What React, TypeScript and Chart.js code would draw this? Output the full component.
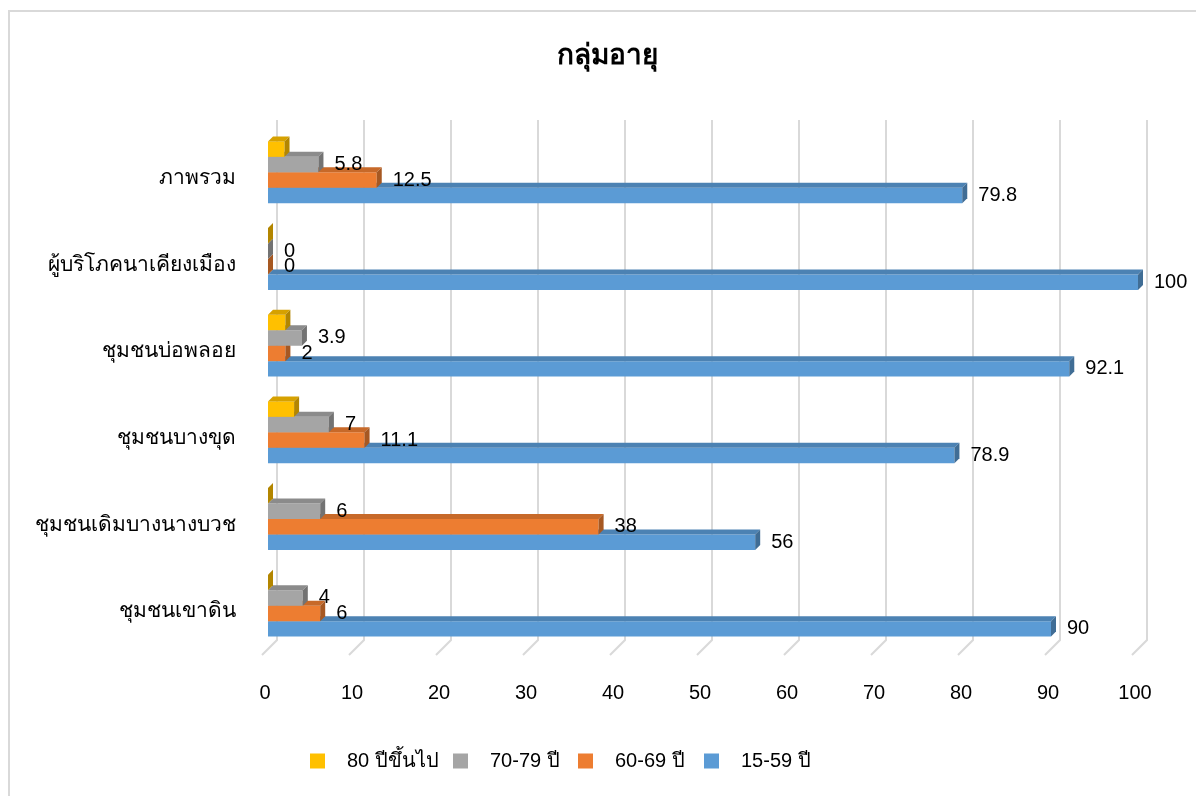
import React, { useEffect, useRef } from "react";
import { Chart, registerables } from "chart.js";

Chart.register(...registerables);

// ---- data ----
const categories = [
  "ภาพรวม",
  "ผู้บริโภคนาเคียงเมือง",
  "ชุมชนบ่อพลอย",
  "ชุมชนบางขุด",
  "ชุมชนเดิมบางนางบวช",
  "ชุมชนเขาดิน",
];
const seriesNames = ["80 ปีขึ้นไป", "70-79 ปี", "60-69 ปี", "15-59 ปี"];
const age80plus = [1.9, 0, 2, 3, 0, 0];
const age70to79 = [5.8, 0, 3.9, 7, 6, 4];
const age60to69 = [12.5, 0, 2, 11.1, 38, 6];
const age15to59 = [79.8, 100, 92.1, 78.9, 56, 90];
const xTickMin = 0;
const xTickMax = 100;
const xTickStep = 10;
const chartTitle = "กลุ่มอายุ";

// ---- styles ----
const COLORS = ["#ffc000", "#a5a5a5", "#ed7d31", "#5b9bd5"];
const FONT = "'Liberation Sans', Arial, 'Noto Sans', sans-serif";
const DEPTH = 5;
const LEGEND_X = [310, 453, 578, 704];

const shade = (hex: string, f: number) => {
  const n = parseInt(hex.slice(1), 16);
  const r = Math.round(((n >> 16) & 255) * f);
  const g = Math.round(((n >> 8) & 255) * f);
  const b = Math.round((n & 255) * f);
  return `rgb(${r},${g},${b})`;
};

// white page with the light frame on the top and left edges, plus the title
const framePlugin = {
  id: "frame",
  beforeDraw(chart: any) {
    const { ctx, width, height } = chart;
    ctx.save();
    ctx.fillStyle = "#ffffff";
    ctx.fillRect(0, 0, width, height);
    ctx.strokeStyle = "#d9d9d9";
    ctx.lineWidth = 2;
    ctx.beginPath();
    ctx.moveTo(9, height);
    ctx.lineTo(9, 11);
    ctx.lineTo(width, 11);
    ctx.stroke();
    ctx.fillStyle = "#000000";
    ctx.font = `bold 28px ${FONT}`;
    ctx.textAlign = "center";
    ctx.textBaseline = "middle";
    ctx.fillText(chartTitle, 607, 56);
    ctx.restore();
  },
};

// back-wall gridlines plus the slanted floor edges of the 3D plot
const grid3dPlugin = {
  id: "grid3d",
  beforeDatasetsDraw(chart: any) {
    const { ctx, chartArea, scales } = chart;
    const xs = scales.x;
    ctx.save();
    ctx.strokeStyle = "#d9d9d9";
    ctx.lineWidth = 2;
    for (let v = xTickMin; v <= xTickMax; v += xTickStep) {
      const xf = xs.getPixelForValue(v);
      const bx = xf + 9;
      ctx.beginPath();
      ctx.moveTo(bx, chartArea.top - 9);
      ctx.lineTo(bx, chartArea.bottom - 9);
      ctx.lineTo(xf - 6, chartArea.bottom + 6);
      ctx.stroke();
    }
    ctx.restore();
  },
};

// top and end faces that give each bar its depth
const bar3dPlugin = {
  id: "bar3d",
  afterDatasetDraw(chart: any, args: any) {
    const ds = chart.data.datasets[args.index];
    const color = ds.backgroundColor as string;
    const ctx = chart.ctx;
    ctx.save();
    args.meta.data.forEach((el: any) => {
      const { x, y, base, height } = el.getProps(["x", "y", "base", "height"], true);
      const top = y - height / 2;
      const bottom = y + height / 2;
      const x0 = Math.min(x, base);
      const x1 = Math.max(x, base);
      ctx.fillStyle = shade(color, 0.84);
      ctx.beginPath();
      ctx.moveTo(x0, top);
      ctx.lineTo(x1, top);
      ctx.lineTo(x1 + DEPTH, top - DEPTH);
      ctx.lineTo(x0 + DEPTH, top - DEPTH);
      ctx.closePath();
      ctx.fill();
      ctx.fillStyle = shade(color, 0.7);
      ctx.beginPath();
      ctx.moveTo(x1, top);
      ctx.lineTo(x1 + DEPTH, top - DEPTH);
      ctx.lineTo(x1 + DEPTH, bottom - DEPTH);
      ctx.lineTo(x1, bottom);
      ctx.closePath();
      ctx.fill();
    });
    ctx.restore();
  },
};

// value labels to the right of each bar
const valueLabelPlugin = {
  id: "valueLabels",
  afterDatasetsDraw(chart: any) {
    const ctx = chart.ctx;
    ctx.save();
    ctx.font = `20px ${FONT}`;
    ctx.fillStyle = "#000000";
    ctx.textAlign = "left";
    ctx.textBaseline = "middle";
    chart.data.datasets.forEach((ds: any, i: number) => {
      if (!ds.showValues) return;
      const meta = chart.getDatasetMeta(i);
      meta.data.forEach((el: any, j: number) => {
        const { x, y } = el.getProps(["x", "y"], true);
        ctx.fillText(String(ds.data[j]), x + 16, y);
      });
    });
    ctx.restore();
  },
};

// legend row along the bottom
const legendPlugin = {
  id: "legendRow",
  afterDraw(chart: any) {
    const ctx = chart.ctx;
    ctx.save();
    ctx.font = `20px ${FONT}`;
    ctx.textAlign = "left";
    ctx.textBaseline = "middle";
    const cy = 761;
    chart.data.datasets.forEach((ds: any, i: number) => {
      const x = LEGEND_X[i];
      ctx.fillStyle = ds.backgroundColor;
      ctx.fillRect(x, cy - 7.5, 15, 15);
      ctx.fillStyle = "#000000";
      ctx.fillText(ds.label, x + 15 + 22, cy);
    });
    ctx.restore();
  },
};

export default function App() {
  const canvasRef = useRef<HTMLCanvasElement | null>(null);

  useEffect(() => {
    if (!canvasRef.current) return;
    const values = [age80plus, age70to79, age60to69, age15to59];
    const chart = new Chart(canvasRef.current, {
      type: "bar",
      data: {
        labels: categories,
        datasets: values.map((data, i) => ({
          label: seriesNames[i],
          data,
          backgroundColor: COLORS[i],
          borderWidth: 0,
          categoryPercentage: 0.714,
          barPercentage: 1.0,
          showValues: i > 0,
        })) as any,
      },
      options: {
        indexAxis: "y",
        responsive: false,
        animation: false,
        layout: { padding: { left: 0, right: 58, top: 129, bottom: 0 } },
        plugins: {
          legend: { display: false },
          tooltip: { enabled: false },
          title: { display: false },
        },
        scales: {
          x: {
            type: "linear",
            position: "bottom",
            min: xTickMin,
            max: xTickMax,
            grid: { display: false, drawTicks: false },
            border: { display: false },
            ticks: {
              stepSize: xTickStep,
              color: "#000000",
              font: { family: FONT, size: 20 },
              padding: 32,
              labelOffset: -3,
            },
            afterFit(scale: any) {
              scale.height = 147;
            },
          },
          y: {
            type: "category",
            grid: { display: false, drawTicks: false },
            border: { display: false },
            ticks: {
              color: "#000000",
              font: { family: FONT, size: 21 },
              padding: 32,
              labelOffset: 6,
            },
            afterFit(scale: any) {
              scale.width = 268;
            },
          },
        },
      },
      plugins: [framePlugin, grid3dPlugin, bar3dPlugin, valueLabelPlugin, legendPlugin],
    });
    return () => chart.destroy();
  }, []);

  return (
    <div style={{ position: "fixed", left: 0, top: 0, width: 1196, height: 796, background: "#fff" }}>
      <canvas ref={canvasRef} width={1196} height={796} style={{ display: "block" }} />
    </div>
  );
}
